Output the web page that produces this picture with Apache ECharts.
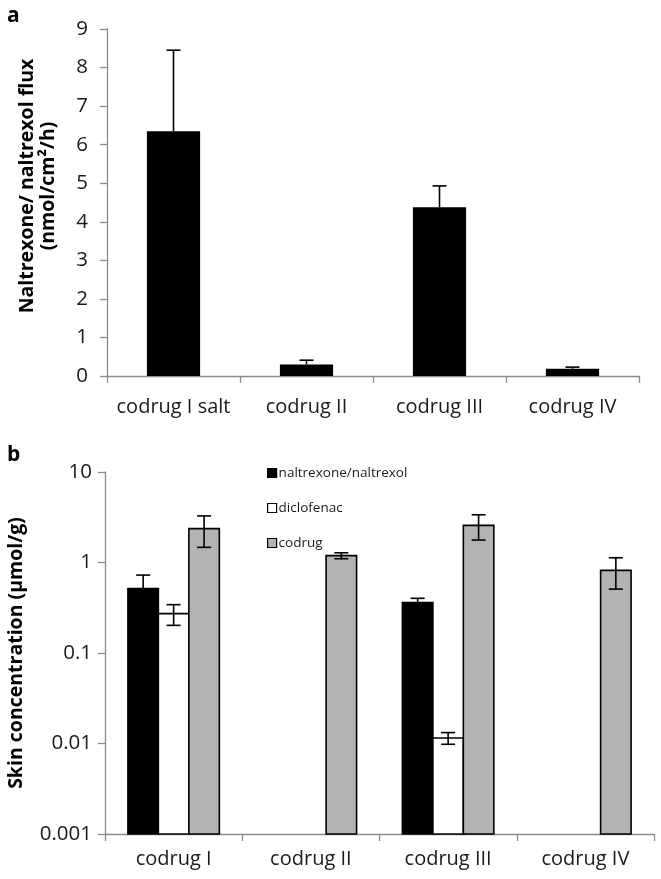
<!DOCTYPE html>
<html>
<head>
<meta charset="utf-8">
<script src="https://cdn.jsdelivr.net/npm/echarts@6/dist/echarts.min.js"></script>
<style>
html,body{margin:0;padding:0;background:#fff;}
#c{width:661px;height:879px;}
</style>
</head>
<body>
<div id="c"></div>
<script>
// ---- Panel a data ----
const catsA = ['codrug I salt', 'codrug II', 'codrug III', 'codrug IV'];
const fluxA = [6.35, 0.30, 4.38, 0.19];
const fluxErrA = [2.10, 0.11, 0.55, 0.04];
const yTicksA = [0, 1, 2, 3, 4, 5, 6, 7, 8, 9];

// ---- Panel b data ----
const catsB = ['codrug I', 'codrug II', 'codrug III', 'codrug IV'];
const seriesNamesB = ['naltrexone/naltrexol', 'diclofenac', 'codrug'];
const naltrexoneB = [0.516, null, 0.362, null];
const naltrexoneErrB = [0.21, null, 0.04, null];
const diclofenacB = [0.272, null, 0.0115, null];
const diclofenacErrB = [0.07, null, 0.0017, null];
const codrugB = [2.37, 1.19, 2.57, 0.818];
const codrugErrB = [0.90, 0.09, 0.80, 0.31];
const yTicksB = ['0.001', '0.01', '0.1', '1', '10'];

const FONT = '"Open Sans", "DejaVu Sans", sans-serif';
const AXIS_GRAY = '#8c8c8c';
const TXT = '#1a1a1a';
const BAR_FRAC_B = 0.222;
const fills = ['#000000', '#ffffff', '#b3b3b3'];

const chart = echarts.init(document.getElementById('c'), null, {renderer: 'canvas'});

function errRender(offsetIdx, frac, plusOnly) {
  return function (params, api) {
    const cat = api.value(0), v = api.value(1), e = api.value(2);
    const band = api.size([1, 1])[0];
    const dx = frac ? offsetIdx * band * frac : 0;
    const lo = plusOnly ? v : v - e;
    const pTop = api.coord([cat, v + e]);
    const pBot = api.coord([cat, lo]);
    const x = pTop[0] + dx;
    const cap = 7;
    const st = {stroke: '#000', lineWidth: 1.6, fill: null};
    const children = [
      {type: 'line', shape: {x1: x, y1: pTop[1], x2: x, y2: pBot[1]}, style: st},
      {type: 'line', shape: {x1: x - cap, y1: pTop[1], x2: x + cap, y2: pTop[1]}, style: st}
    ];
    if (!plusOnly) {
      children.push({type: 'line', shape: {x1: x - cap, y1: pBot[1], x2: x + cap, y2: pBot[1]}, style: st});
    }
    return {type: 'group', children: children};
  };
}

function barRenderB(offsetIdx, fill) {
  return function (params, api) {
    const cat = api.value(0), v = api.value(1);
    const band = api.size([1, 1])[0];
    const w = band * BAR_FRAC_B;
    const pTop = api.coord([cat, v]);
    const pBase = api.coord([cat, 0.001]);
    const cx = pTop[0] + offsetIdx * w;
    return {
      type: 'rect',
      shape: {x: cx - w / 2, y: pTop[1], width: w, height: pBase[1] - pTop[1]},
      style: {fill: fill, stroke: '#000', lineWidth: 1.6}
    };
  };
}

function toData(vals, errs) {
  const out = [];
  vals.forEach((v, i) => { if (v != null) out.push([i, v, errs ? errs[i] : 0]); });
  return out;
}

const valsB = [naltrexoneB, diclofenacB, codrugB];
const errsB = [naltrexoneErrB, diclofenacErrB, codrugErrB];

const seriesB = [];
valsB.forEach((vals, k) => {
  seriesB.push({
    name: seriesNamesB[k],
    type: 'custom',
    xAxisIndex: 1, yAxisIndex: 1,
    renderItem: barRenderB(k - 1, fills[k]),
    itemStyle: {color: fills[k], borderColor: '#000', borderWidth: 1},
    encode: {x: 0, y: 1},
    data: toData(vals, errsB[k]),
    z: 2
  });
});
valsB.forEach((vals, k) => {
  seriesB.push({
    type: 'custom',
    xAxisIndex: 1, yAxisIndex: 1,
    renderItem: errRender(k - 1, BAR_FRAC_B, false),
    encode: {x: 0, y: [1]},
    data: toData(vals, errsB[k]),
    z: 5
  });
});

const option = {
  animation: false,
  backgroundColor: '#ffffff',
  textStyle: {fontFamily: FONT},
  grid: [
    {left: 107, right: 22, top: 29, bottom: 503},
    {left: 105, right: 7, top: 472, bottom: 45}
  ],
  legend: {
    orient: 'vertical',
    left: 262, top: 461,
    itemWidth: 9, itemHeight: 9,
    itemGap: 21,
    icon: 'rect',
    textStyle: {fontFamily: FONT, fontSize: 13.5, color: TXT, padding: [0, 0, 0, -3]},
    data: seriesNamesB.map((n, k) => ({
      name: n, icon: 'rect',
      itemStyle: {color: fills[k], borderColor: '#000', borderWidth: 1.2}
    }))
  },
  xAxis: [
    {
      type: 'category', gridIndex: 0, data: catsA,
      axisLine: {lineStyle: {color: AXIS_GRAY, width: 1.3}},
      axisTick: {show: true, length: 7, lineStyle: {color: AXIS_GRAY, width: 1.3}},
      axisLabel: {fontFamily: FONT, fontSize: 20, color: TXT, margin: 21, interval: 0}
    },
    {
      type: 'category', gridIndex: 1, data: catsB,
      axisLine: {lineStyle: {color: AXIS_GRAY, width: 1.3}},
      axisTick: {show: true, length: 7, lineStyle: {color: AXIS_GRAY, width: 1.3}},
      axisLabel: {fontFamily: FONT, fontSize: 20, color: TXT, margin: 15, interval: 0}
    }
  ],
  yAxis: [
    {
      type: 'value', gridIndex: 0, min: 0, max: 9, interval: 1,
      axisLine: {show: true, lineStyle: {color: AXIS_GRAY, width: 1.3}},
      axisTick: {show: true, length: 7, lineStyle: {color: AXIS_GRAY, width: 1.3}},
      splitLine: {show: false},
      axisLabel: {fontFamily: FONT, fontSize: 20.5, color: TXT, margin: 19,
        formatter: v => String(yTicksA[Math.round(v)])}
    },
    {
      type: 'log', gridIndex: 1, logBase: 10, min: 0.001, max: 10,
      axisLine: {show: true, lineStyle: {color: AXIS_GRAY, width: 1.3}},
      axisTick: {show: true, length: 7, lineStyle: {color: AXIS_GRAY, width: 1.3}},
      splitLine: {show: false},
      minorTick: {show: false},
      axisLabel: {fontFamily: FONT, fontSize: 20.5, color: TXT, margin: 13,
        formatter: v => yTicksB[Math.round(Math.log10(v)) + 3]}
    }
  ],
  graphic: [
    {type: 'text', left: 7, top: 6, style: {text: 'a', font: 'bold 21px ' + FONT, fill: '#000'}},
    {type: 'text', left: 7, top: 445, style: {text: 'b', font: 'bold 21px ' + FONT, fill: '#000'}},
    {type: 'text', x: 38, y: 186, rotation: Math.PI / 2,
      style: {text: 'Naltrexone/ naltrexol flux\n(nmol/cm²/h)', font: 'bold 19.5px ' + FONT,
        fill: '#000', align: 'center', verticalAlign: 'middle', lineHeight: 21}},
    {type: 'text', x: 16, y: 653, rotation: Math.PI / 2,
      style: {text: 'Skin concentration (µmol/g)', font: 'bold 19.5px ' + FONT,
        fill: '#000', align: 'center', verticalAlign: 'middle'}}
  ],
  series: [
    {
      type: 'bar', xAxisIndex: 0, yAxisIndex: 0,
      data: fluxA, barWidth: '40%',
      itemStyle: {color: '#000'}, z: 2
    },
    {
      type: 'custom', xAxisIndex: 0, yAxisIndex: 0,
      renderItem: errRender(0, 0, true),
      encode: {x: 0, y: [1]},
      data: fluxA.map((v, i) => [i, v, fluxErrA[i]]),
      z: 5
    }
  ].concat(seriesB)
};
chart.setOption(option);
</script>
</body>
</html>
